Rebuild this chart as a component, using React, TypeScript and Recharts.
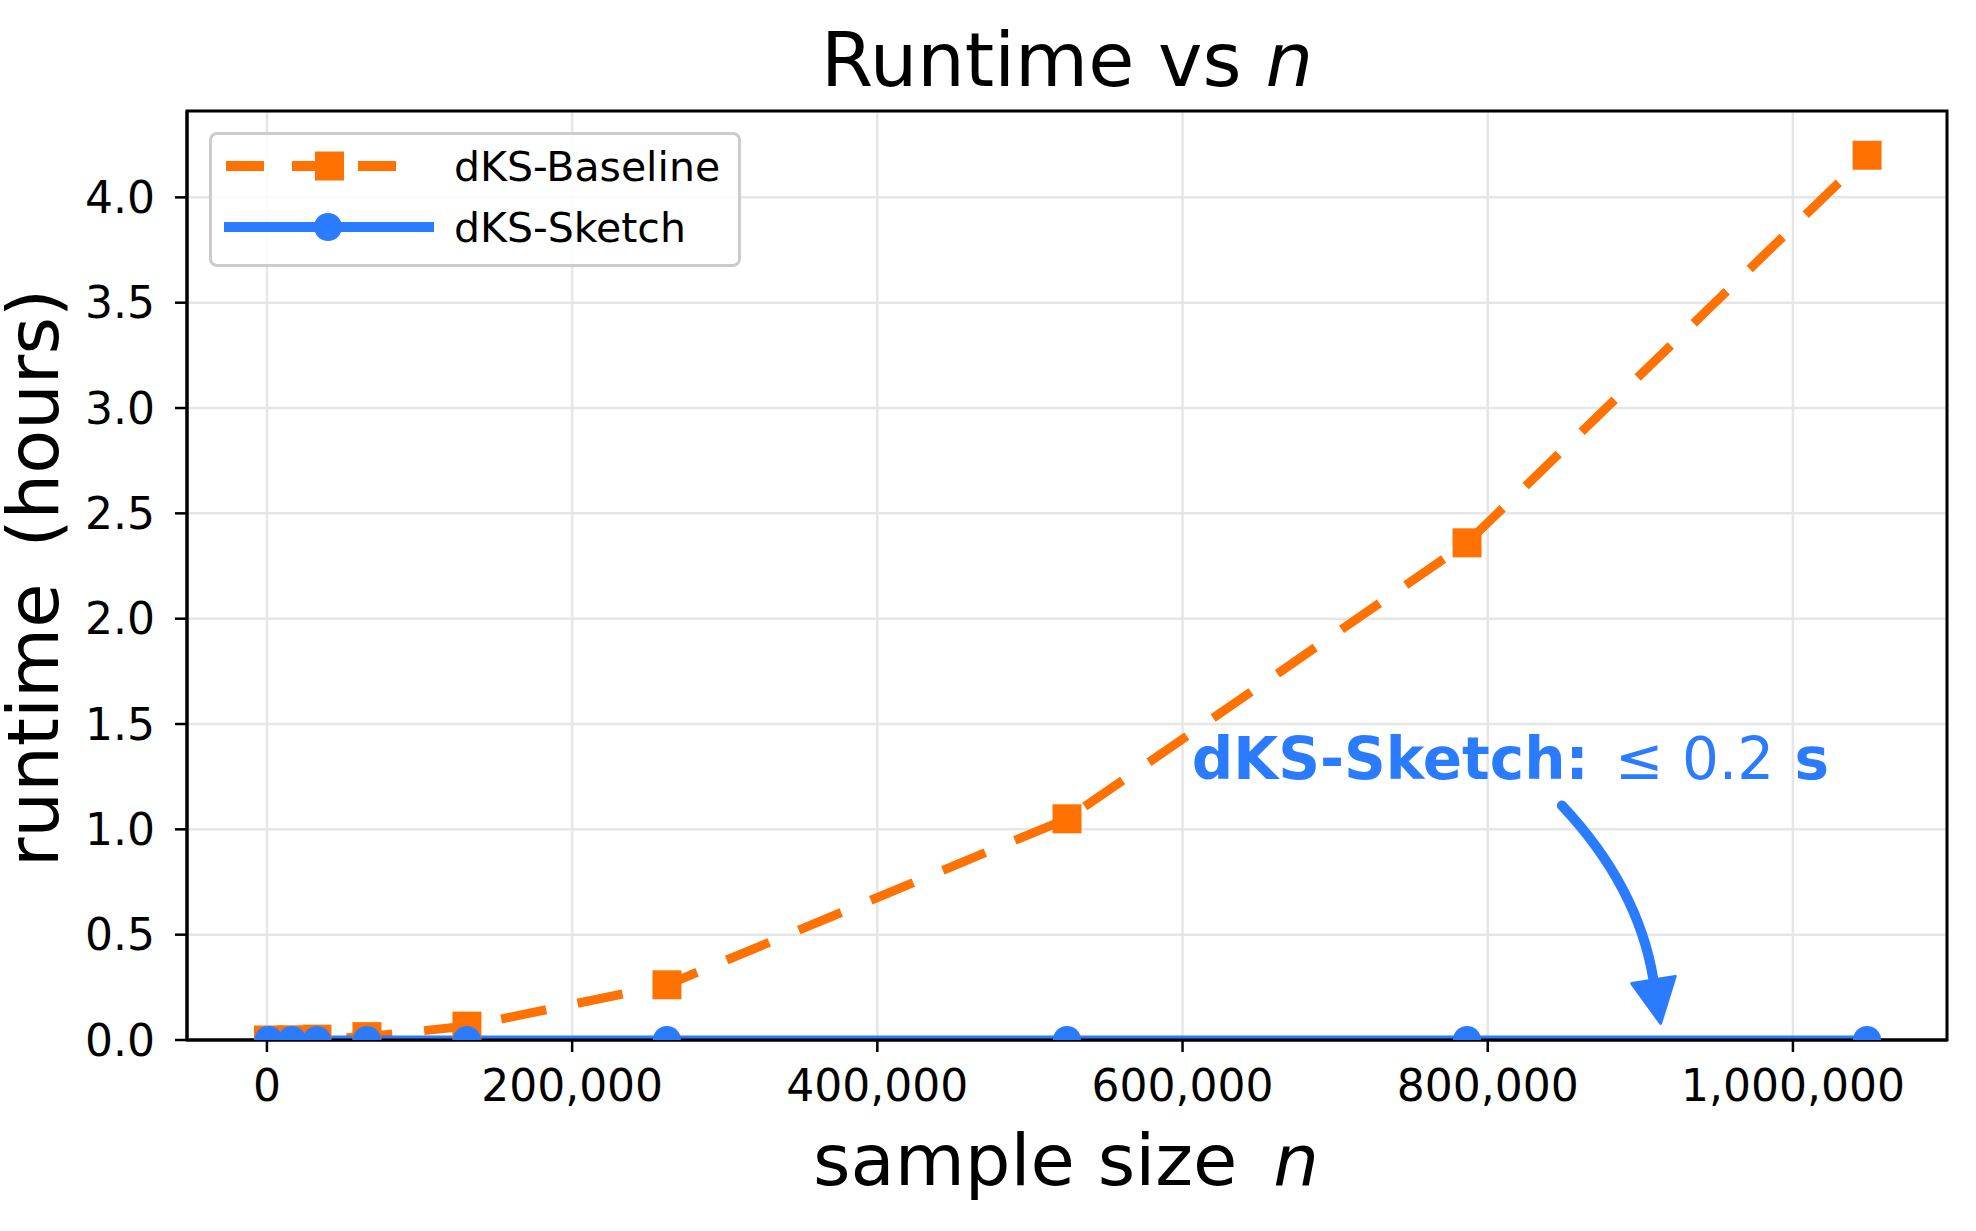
import React from 'react'
import {
  LineChart,
  Line,
  XAxis,
  YAxis,
  CartesianGrid,
  Legend,
  ReferenceArea,
  ReferenceLine,
  ReferenceDot,
} from 'recharts'

// sample sizes n and runtimes (hours)
const sampleSizes = [1024, 16384, 32768, 65536, 131072, 262144, 524288, 786432, 1048576]
const baselineHours = [0.0, 0.001, 0.004, 0.016, 0.066, 0.262, 1.05, 2.36, 4.2]
const sketchHours = [0.00001, 0.00001, 0.00002, 0.00002, 0.00003, 0.00004, 0.00005, 0.00005, 0.00006]

const xTicks = [0, 200000, 400000, 600000, 800000, 1000000]
const yTicks = [0, 0.5, 1, 1.5, 2, 2.5, 3, 3.5, 4]
const xDomain: [number, number] = [-52379, 1100955]
const yDomain: [number, number] = [0, 4.41]

// annotation anchors (data coords)
const noteText = { n: 606000, h: 1.24 }
const arrowFrom = { n: 848600, h: 1.113 }
const arrowTo = { n: 913300, h: 0.079 }

const ORANGE = '#ff7100'
const BLUE = '#2b7bff'
const FONT = '"DejaVu Sans", sans-serif'

const rows = sampleSizes.map((n, i) => ({
  n,
  baseline: baselineHours[i],
  sketch: sketchHours[i],
}))

const SquareDot = (p: any) => (
  <rect key={`sq-${p.index}`} x={p.cx - 14.5} y={p.cy - 14.5} width={29} height={29} fill={ORANGE} />
)

const CircleDot = (p: any) => (
  <circle key={`ci-${p.index}`} cx={p.cx} cy={p.cy} r={14} fill={BLUE} />
)

const LegendBox = () => (
  <div
    style={{
      position: 'relative',
      width: 532,
      height: 135,
      boxSizing: 'border-box',
      border: '3px solid #cccccc',
      borderRadius: 8,
      background: 'rgba(255,255,255,0.85)',
      fontFamily: FONT,
      fontSize: 41,
      color: '#000',
    }}
  >
    <svg width={215} height={135} style={{ position: 'absolute', left: 10, top: -3 }}>
      <line x1={4} y1={34} x2={175} y2={34} stroke={ORANGE} strokeWidth={10} strokeDasharray="38 28" />
      <rect x={93} y={19.5} width={29} height={29} fill={ORANGE} />
      <line x1={2} y1={95} x2={212} y2={95} stroke={BLUE} strokeWidth={10} />
      <circle cx={106} cy={95} r={14} fill={BLUE} />
    </svg>
    <div style={{ position: 'absolute', left: 242, top: 8, lineHeight: '48px' }}>dKS-Baseline</div>
    <div style={{ position: 'absolute', left: 242, top: 69, lineHeight: '48px' }}>dKS-Sketch</div>
  </div>
)

const CurvedArrow = (p: any) => {
  const { x1, y1, x2, y2 } = p
  const dx = x2 - x1
  const dy = y2 - y1
  const len = Math.hypot(dx, dy)
  const ux = dx / len
  const uy = dy / len
  const px = uy
  const py = -ux
  const cx = x1 + 0.44 * dx + 36 * px
  const cy = y1 + 0.44 * dy + 36 * py
  // head direction from control point to tip
  const hx = x2 - cx
  const hy = y2 - cy
  const hl = Math.hypot(hx, hy)
  const hux = hx / hl
  const huy = hy / hl
  const headLen = 44
  const headHalf = 22
  const bx = x2 - hux * headLen
  const by = y2 - huy * headLen
  return (
    <g>
      <path
        d={`M${x1},${y1} Q${cx},${cy} ${bx},${by}`}
        fill="none"
        stroke={BLUE}
        strokeWidth={10}
        strokeLinecap="round"
      />
      <polygon
        points={`${x2},${y2} ${bx - huy * headHalf},${by + hux * headHalf} ${bx + huy * headHalf},${by - hux * headHalf}`}
        fill={BLUE}
        stroke={BLUE}
        strokeWidth={3}
        strokeLinejoin="round"
      />
    </g>
  )
}

const NoteText = (p: any) => (
  <text x={p.cx} y={p.cy} fill={BLUE} fontFamily={FONT} fontSize={58}>
    <tspan fontWeight="bold">dKS-Sketch: </tspan>
    <tspan dx={6}>≤ 0.2</tspan>
    <tspan fontWeight="bold"> s</tspan>
  </text>
)

export default function App() {
  return (
    <div style={{ position: 'absolute', left: 0, top: 0, width: 1976, height: 1231, background: '#fff' }}>
      <LineChart width={1976} height={1231} data={rows} margin={{ top: 111, right: 29, bottom: 0, left: 0 }}>
        <CartesianGrid stroke="#e6e6e6" strokeWidth={2.5} />
        <XAxis
          dataKey="n"
          type="number"
          domain={xDomain}
          ticks={xTicks}
          allowDataOverflow
          height={191}
          tickSize={12}
          tickMargin={18}
          tickFormatter={(v: number) => v.toLocaleString('en-US')}
          axisLine={{ stroke: '#000', strokeWidth: 3 }}
          tickLine={{ stroke: '#000', strokeWidth: 2.5 }}
          tick={{ fill: '#000', fontSize: 44, fontFamily: FONT }}
        />
        <YAxis
          type="number"
          domain={yDomain}
          ticks={yTicks}
          allowDataOverflow
          width={187}
          tickSize={12}
          tickMargin={20}
          tickFormatter={(v: number) => v.toFixed(1)}
          axisLine={{ stroke: '#000', strokeWidth: 3 }}
          tickLine={{ stroke: '#000', strokeWidth: 2.5 }}
          tick={{ fill: '#000', fontSize: 44, fontFamily: FONT }}
        />
        <ReferenceArea
          x1={xDomain[0]}
          x2={xDomain[1]}
          y1={yDomain[0]}
          y2={yDomain[1]}
          fill="none"
          stroke="#000"
          strokeWidth={3}
          fillOpacity={0}
        />
        <Line
          dataKey="baseline"
          type="linear"
          stroke={ORANGE}
          strokeWidth={9}
          strokeDasharray="46 32"
          dot={SquareDot}
          activeDot={false}
          isAnimationActive={false}
        />
        <Line
          dataKey="sketch"
          type="linear"
          stroke={BLUE}
          strokeWidth={9}
          dot={CircleDot}
          activeDot={false}
          isAnimationActive={false}
        />
        <ReferenceLine
          segment={[
            { x: arrowFrom.n, y: arrowFrom.h },
            { x: arrowTo.n, y: arrowTo.h },
          ]}
          shape={CurvedArrow}
        />
        <ReferenceDot x={noteText.n} y={noteText.h} r={0} shape={NoteText} />
        <Legend
          layout="vertical"
          align="center"
          verticalAlign="middle"
          content={() => <LegendBox />}
          wrapperStyle={{ left: 209, top: 132, width: 532, height: 135 }}
        />
      </LineChart>
      <svg
        width={1976}
        height={1231}
        style={{ position: 'absolute', left: 0, top: 0, pointerEvents: 'none' }}
      >
        <text x={1067} y={86} textAnchor="middle" fontFamily={FONT} fontSize={75} fill="#000">
          Runtime vs <tspan fontStyle="italic">n</tspan>
        </text>
        <text x={1066} y={1185} textAnchor="middle" fontFamily={FONT} fontSize={72} fill="#000">
          sample size{'\u2002'}<tspan fontStyle="italic">n</tspan>
        </text>
        <text
          x={58}
          y={578}
          textAnchor="middle"
          fontFamily={FONT}
          fontSize={72}
          fill="#000"
          transform="rotate(-90 58 578)"
        >
          runtime{'\u2002'}(hours)
        </text>
      </svg>
    </div>
  )
}
